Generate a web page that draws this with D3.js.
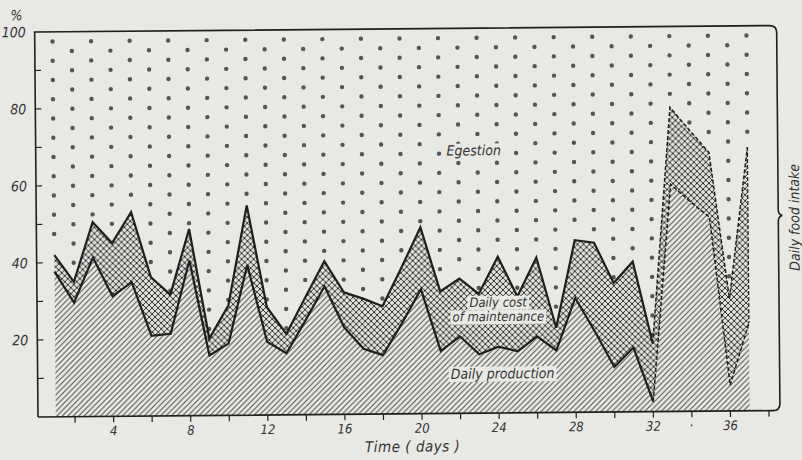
<!DOCTYPE html>
<html>
<head>
<meta charset="utf-8">
<script src="https://cdn.jsdelivr.net/npm/d3@7"></script>
<style>
  body{margin:0;background:#e8e8e4;}
  svg{display:block;}
  text{font-family:"DejaVu Sans Condensed","Liberation Sans Narrow","DejaVu Sans",sans-serif;font-style:italic;fill:#333;}
</style>
</head>
<body>
<div id="chart"></div>
<script>
// days of the experiment
const days=[1,2,3,4,5,6,7,8,9,10,11,12,13,14,15,16,17,18,19,20,21,22,23,24,25,26,27,28,29,30,31,32,33,34,35,36,37];
// daily production, % of daily food intake
const production=[37.7,29.6,41.3,31.2,34.8,20.8,21.3,40.3,15.6,18.7,39,19,16,24.5,33.3,22.6,17,15.3,23.5,32.3,16.2,20,15.3,17.2,16,19.8,16.1,29.7,21,11.7,16.7,2.6,59,54.5,50.4,6.7,22.8];
// production + daily cost of maintenance
const assimilated=[42,35,50.5,45,53,36,31.5,48.5,20,28.5,54.5,28,21,30.5,39.8,31.7,30,28,38,48.4,31.7,35,31,40.6,30.2,40.3,22,44.7,44,33.5,39,17.7,79,73,67.2,29.2,68.5];
const yTicks=[10,20,30,40,50,60,70,80,90,100];
const yLabels=[20,40,60,80,100];
const xTicks=[2,4,6,8,10,12,14,16,18,20,22,24,26,28,30,32,34,36,38];
const xLabels=[4,8,12,16,20,24,28,32,36];
const dashedFrom=32;

const W=802,H=460;
const paper="#e8e8e4",ink="#1f1f1f";

const svg=d3.select("#chart").append("svg").attr("width",W).attr("height",H);

var x=d3.scaleLinear().domain([0,38]).range([36.5,769]);
var y=d3.scaleLinear().domain([0,100]).range([417,32]);
const axisX=38, frameR=780;

const rows=days.map((d,i)=>({day:d,low:production[i],high:assimilated[i]}));

//patterns
const defs=svg.append("defs");
var hatch=defs.append("pattern").attr("id","hatch").attr("patternUnits","userSpaceOnUse")
  .attr("width",5.5).attr("height",5.5);
hatch.append("path").attr("d","M-1,1 L1,-1 M0,5.5 L5.5,0 M4.5,6.5 L6.5,4.5")
  .attr("stroke","#4a4a4a").attr("stroke-width",1);

var cross=defs.append("pattern").attr("id","cross").attr("patternUnits","userSpaceOnUse")
  .attr("width",6).attr("height",6);
cross.append("rect").attr("width",6).attr("height",6).attr("fill","#e0e0dc");
cross.append("path").attr("d","M0,0 L6,6 M6,0 L0,6")
  .attr("stroke","#2a2a2a").attr("stroke-width",0.95);

// whole scan is slightly tilted
const g=svg.append("g").attr("transform","rotate(-0.5,"+axisX+",417)");

//production area (hatched)
var areaLow=d3.area().x(d=>x(d.day)).y0(y(0)).y1(d=>y(d.low));
g.append("path").datum(rows).attr("d",areaLow).attr("fill","url(#hatch)");

//maintenance area (cross hatch)
var areaMid=d3.area().x(d=>x(d.day)).y0(d=>y(d.low)).y1(d=>y(d.high));
g.append("path").datum(rows).attr("d",areaMid).attr("fill","url(#cross)");

//egestion dots, staggered grid in each day column
const dots=[];
rows.forEach(function(r){
  var start=r.day%2==1?97.5:95;
  for(let v=start;v>r.high+0.8;v-=5){
    dots.push({day:r.day,v:v});
  }
});
g.selectAll(".dot").data(dots).enter().append("circle")
  .attr("class","dot")
  .attr("cx",d=>x(d.day)).attr("cy",d=>y(d.v)).attr("r",2.2)
  .attr("fill","#555");

//boundary lines, dashed at the end of the run
var line=d3.line().x(d=>x(d.day)).y(d=>y(d.v));
const solidRows=rows.filter(r=>r.day<=dashedFrom);
const dashRows=rows.filter(r=>r.day>=dashedFrom);
["low","high"].forEach(function(key){
  g.append("path").datum(solidRows.map(r=>({day:r.day,v:r[key]})))
    .attr("d",line).attr("fill","none").attr("stroke",ink)
    .attr("stroke-width",2.2).attr("stroke-linejoin","miter");
  g.append("path").datum(dashRows.map(r=>({day:r.day,v:r[key]})))
    .attr("d",line).attr("fill","none").attr("stroke",ink)
    .attr("stroke-width",1.5).attr("stroke-dasharray","4,2");
});
var last=rows[rows.length-1];
g.append("line").attr("x1",x(last.day)).attr("x2",x(last.day))
  .attr("y1",y(last.high)).attr("y2",y(last.low))
  .attr("stroke",ink).attr("stroke-width",1.2).attr("stroke-dasharray","4,2");

//frame with brace on the right
var yTop=y(100),yBot=y(0),brace=222;
g.append("path")
  .attr("d","M"+axisX+","+yBot+" V"+yTop+" H"+(frameR-7)+" Q"+frameR+","+yTop+" "+frameR+","+(yTop+7)+
    " V"+(brace-6)+" Q"+frameR+","+(brace-1)+" "+(frameR+4)+","+brace+
    " Q"+frameR+","+(brace+1)+" "+frameR+","+(brace+6)+
    " V"+(yBot-7)+" Q"+frameR+","+yBot+" "+(frameR-7)+","+yBot+" H"+axisX)
  .attr("fill","none").attr("stroke",ink).attr("stroke-width",1.6);

//y ticks (inward)
g.selectAll(".ytick").data(yTicks.filter(v=>v<100)).enter().append("line")
  .attr("x1",axisX).attr("x2",axisX+6)
  .attr("y1",d=>y(d)).attr("y2",d=>y(d))
  .attr("stroke",ink).attr("stroke-width",1.2);
g.selectAll(".ylab").data(yLabels).enter().append("text")
  .attr("x",axisX-9).attr("y",d=>y(d)+5)
  .attr("text-anchor","end").attr("font-size",14)
  .text(d=>d);
g.append("text").attr("x",20).attr("y",20).attr("text-anchor","middle").attr("font-size",14).text("%");

//x ticks (outward)
g.selectAll(".xtick").data(xTicks).enter().append("line")
  .attr("x1",d=>x(d)).attr("x2",d=>x(d))
  .attr("y1",yBot).attr("y2",yBot+6)
  .attr("stroke",ink).attr("stroke-width",1.2);
g.selectAll(".xlab").data(xLabels).enter().append("text")
  .attr("x",d=>x(d)).attr("y",yBot+19)
  .attr("text-anchor","middle").attr("font-size",13)
  .text(d=>d);
g.append("text").attr("x",x(34)).attr("y",yBot+15).attr("text-anchor","middle").attr("font-size",14).text(".");
g.append("text").attr("x",x(19.5)).attr("y",yBot+38).attr("text-anchor","middle").attr("font-size",15)
  .attr("letter-spacing",0.5).text("Time ( days )");

//region labels
function label(txt,cx,cy,size,bg){
  var t=g.append("text").attr("x",cx).attr("y",cy).attr("text-anchor","middle")
    .attr("dominant-baseline","middle").attr("font-size",size).text(txt);
  if(bg){
    var b=t.node().getBBox();
    g.insert("rect","text").attr("x",b.x-2).attr("y",b.y+1).attr("width",b.width+4).attr("height",b.height-1).attr("fill",paper);
    t.raise();
  }
  return t;
}
label("Egestion",x(22.8),y(68),14,true);
label("Daily cost",x(24),y(28.5),13,true);
label("of maintenance",x(24),y(24.8),13,true);
label("Daily production",x(24.2),y(10),14,true);

g.append("text").attr("transform","translate(797,"+(brace+2)+") rotate(-90)")
  .attr("text-anchor","middle").attr("dominant-baseline","middle")
  .attr("font-size",14).text("Daily food intake");
</script>
</body>
</html>
